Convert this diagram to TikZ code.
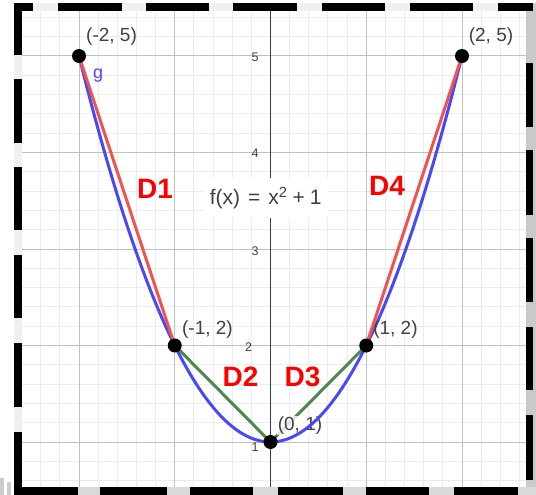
\documentclass[tikz,border=0pt]{standalone}
\usepackage{fontspec}
\setmainfont{Liberation Sans}
\definecolor{minorc}{RGB}{236,236,236}
\definecolor{majorc}{RGB}{192,192,192}
\definecolor{axisc}{RGB}{60,60,60}
\definecolor{txtc}{RGB}{64,64,64}
\definecolor{curveblue}{RGB}{72,72,250}
\definecolor{segred}{RGB}{240,84,78}
\definecolor{seggreen}{RGB}{78,136,78}
\definecolor{labred}{RGB}{255,0,0}
\tikzset{
  minorgrid/.style={draw=minorc, line width=1pt},
  majorgrid/.style={draw=majorc, line width=1pt},
  axisline/.style={draw=axisc, line width=1.2pt},
  ticklab/.style={text=txtc, font=\fontsize{12.5}{13}\selectfont, inner sep=1pt},
  ptlab/.style={text=txtc, font=\fontsize{19}{21}\selectfont, inner sep=1pt},
  dlab/.style={text=labred, font=\fontsize{28}{30}\selectfont\bfseries, inner sep=1pt},
  gcurve/.style={draw=curveblue, line width=3pt},
  redseg/.style={draw=segred, line width=3pt},
  greenseg/.style={draw=seggreen, line width=3pt},
  ptdot/.style={circle, fill=black, minimum size=14pt, inner sep=0pt},
  framedash/.style={fill=black},
}
\begin{document}
\begin{tikzpicture}[x=1pt,y=-1pt]
\useasboundingbox (0,0) rectangle (536,495);
% outer shading
\fill[gray!12] (14,3) rectangle (536,11);
\fill[gray!12] (14,3) rectangle (22,495);
\fill[gray!42] (526,3) rectangle (536,495);
\fill[gray!30] (14,487) rectangle (536,495);
\fill[gray!40] (0,478) rectangle (4,495);
\fill[gray!40] (7,482) rectangle (11,495);
% plot area
\fill[white] (22,11) rectangle (526,487);
\begin{scope}[shift={(270.5,538.5)},x=95.75pt,y=96.5pt]
  \begin{scope}
    \clip (-2.595,0.534) rectangle (2.668,5.466);
    \foreach \i in {-13,...,13} \draw[minorgrid] (\i/5,0.534) -- (\i/5,5.466);
    \foreach \j in {3,...,27} \draw[minorgrid] (-2.595,\j/5) -- (2.668,\j/5);
    \foreach \i in {-2,-1,1,2} \draw[majorgrid] (\i,0.534) -- (\i,5.466);
    \foreach \j in {1,...,5} \draw[majorgrid] (-2.595,\j) -- (2.668,\j);
    \draw[axisline] (0,0.534) -- (0,5.466);
  \end{scope}
  % tick labels
  \node[ticklab] (t5) at (-0.16,4.99) {5};
  \node[ticklab] (t4) at (-0.16,3.99) {4};
  \node[ticklab] (t3) at (-0.16,2.98) {3};
  \node[ticklab] (t2) at (-0.23,1.98) {2};
  \node[ticklab] (t1) at (-0.16,0.95) {1};
  % formula
  \node[fill=white, text=txtc, font=\fontsize{21}{23}\selectfont, inner xsep=6pt, minimum height=40pt] (fx) at (-0.05,3.53)
    {f(x)\hspace{8pt}=\hspace{8pt}x\textsuperscript{2}\hspace{5pt}+\hspace{5pt}1};
  % points
  \coordinate (A) at (-2,5);
  \coordinate (B) at (-1,2);
  \coordinate (C) at (0,1);
  \coordinate (D) at (1,2);
  \coordinate (E) at (2,5);
  % segments
  \draw[greenseg] (B) -- (C);
  \draw[greenseg] (C) -- (D);
  \node[ptlab, fill=white, fill opacity=0.8, text opacity=1, inner sep=0.5pt] (lC) at (0.308,1.171) {(0, 1)};
  \draw[gcurve, domain=-2:2, samples=81, smooth] plot (\x,{\x*\x+1});
  \draw[redseg] (A) -- (B);
  \draw[redseg] (D) -- (E);
  \node[ptdot] (pA) at (A) {};
  \node[ptdot] (pB) at (B) {};
  \node[ptdot] (pC) at (C) {};
  \node[ptdot] (pD) at (D) {};
  \node[ptdot] (pE) at (E) {};
  % labels
  \node[ptlab] (lA) at (-1.66,5.197) {(-2, 5)};
  \node[ptlab] (lE) at (2.303,5.197) {(2, 5)};
  \node[ptlab] (lB) at (-0.658,2.16) {(-1, 2)};
  \node[ptlab] (lD) at (1.305,2.16) {(1, 2)};
  \node[ptlab, text=curveblue, font=\fontsize{18}{20}\selectfont] (lg) at (-1.80,4.80) {g};
  \node[dlab] (d1) at (-1.206,3.622) {D1};
  \node[dlab] (d4) at (1.217,3.653) {D4};
  \node[dlab] (d2) at (-0.313,1.679) {D2};
  \node[dlab] (d3) at (0.334,1.679) {D3};
\end{scope}
% dashed frame
\foreach \a/\b in {14/33,58/122,146/209,233/297,322/385,410/473,498/533}
  \fill[framedash] (\a,3) rectangle (\b,11);
\foreach \a/\b in {3/55,79/143,167/230,255/318,343/407,432/495}
  \fill[framedash] (14,\a) rectangle (22,\b);
\foreach \a/\b in {3/11,63/127,150/215,238/302,327/390,415/480}
  \fill[framedash] (526,\a) rectangle (533,\b);
\foreach \a/\b in {14/78,100/167,190/253,278/343,366/429,454/518}
  \fill[framedash] (\a,487) rectangle (\b,495);
\end{tikzpicture}
\end{document}
